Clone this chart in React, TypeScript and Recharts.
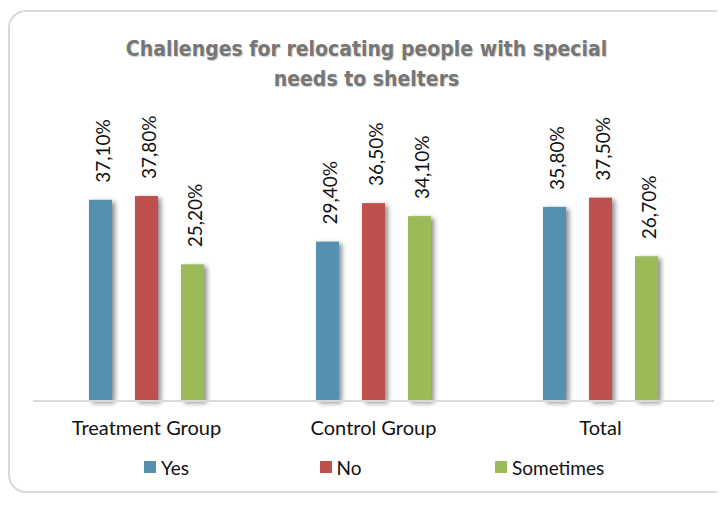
import { Bar, BarChart, XAxis, YAxis, Legend, LabelList } from "recharts"

const groups = ["Treatment Group", "Control Group", "Total"]
const yesValues = [37.1, 29.4, 35.8]
const noValues = [37.8, 36.5, 37.5]
const sometimesValues = [25.2, 34.1, 26.7]

const seriesNames = ["Yes", "No", "Sometimes"]
const seriesColors = ["#5690b0", "#c0504d", "#9bbb59"]

const data = groups.map((name, i) => ({
  name,
  Yes: yesValues[i],
  No: noValues[i],
  Sometimes: sometimesValues[i],
}))

const labelFont = "'Lato', 'Open Sans', sans-serif"

// 37.1 -> "37,10%"
const formatPct = (v: number) => `${v.toFixed(2).replace(".", ",")}%`

const ShadowBar = (props: any) => {
  const { x, y, width, height, fill } = props
  if (!height || height <= 0) return null
  return (
    <g>
      <rect x={x + 3} y={y + 2} width={width} height={height} fill="#000" opacity={0.45} filter="url(#barShadow)" />
      <rect x={x} y={y} width={width} height={height} fill={fill} />
    </g>
  )
}

const RotatedLabel = (props: any) => {
  const { x, y, width, value } = props
  const cx = x + width / 2 + 2
  const cy = y - 17
  return (
    <text
      x={cx}
      y={cy}
      transform={`rotate(-90, ${cx}, ${cy})`}
      textAnchor="start"
      dominantBaseline="central"
      fontFamily={labelFont}
      fontSize={19}
      fill="#111"
    >
      {formatPct(value)}
    </text>
  )
}

const LegendContent = () => (
  <div style={{ display: "flex", paddingLeft: 136, height: 24, alignItems: "center" }}>
    {seriesNames.map((n, i) => (
      <div key={n} style={{ width: 175.5, display: "flex", alignItems: "center" }}>
        <span style={{ width: 12, height: 12, background: seriesColors[i], display: "inline-block", marginRight: 5 }} />
        <span style={{ fontFamily: labelFont, fontSize: 19, color: "#111" }}>{n}</span>
      </div>
    ))}
  </div>
)

export default function App() {
  return (
    <div style={{ position: "relative", width: 717, height: 488, overflow: "hidden" }}>
      <div
        style={{
          position: "absolute",
          left: 0,
          top: 2,
          width: 760,
          height: 483,
          border: "2px solid #d9d9d9",
          borderRadius: 18,
          boxSizing: "border-box",
        }}
      />
      <div
        style={{
          position: "absolute",
          left: 0,
          top: 26,
          width: 717,
          textAlign: "center",
          fontFamily: "'DejaVu Sans Condensed', 'DejaVu Sans', sans-serif",
          fontStretch: "condensed",
          fontWeight: 700,
          fontSize: 21,
          lineHeight: "30px",
          color: "#767676",
          textShadow: "1px 1px 1px rgba(0,0,0,0.2)",
        }}
      >
        Challenges for relocating people with special
        <br />
        needs to shelters
      </div>
      <div style={{ position: "absolute", left: 0, top: 0 }}>
        <BarChart
          width={717}
          height={488}
          data={data}
          margin={{ top: 149, right: 11, left: 25, bottom: 17 }}
          barSize={23}
          barGap={23}
          barCategoryGap={56}
        >
          <defs>
            <filter id="barShadow" x="-50%" y="-10%" width="200%" height="120%">
              <feGaussianBlur stdDeviation="2.5" />
            </filter>
          </defs>
          <XAxis
            dataKey="name"
            height={54}
            axisLine={{ stroke: "#d9d9d9", strokeWidth: 2 }}
            tickLine={false}
            tick={{ fontFamily: labelFont, fontSize: 20, fill: "#111" }}
            dy={12}
          />
          <YAxis hide domain={[0, 45]} />
          <Legend verticalAlign="bottom" content={<LegendContent />} wrapperStyle={{ left: 0, width: 717 }} />
          {seriesNames.map((n, i) => (
            <Bar key={n} dataKey={n} fill={seriesColors[i]} shape={<ShadowBar />} isAnimationActive={false}>
              <LabelList dataKey={n} content={<RotatedLabel />} />
            </Bar>
          ))}
        </BarChart>
      </div>
    </div>
  )
}
